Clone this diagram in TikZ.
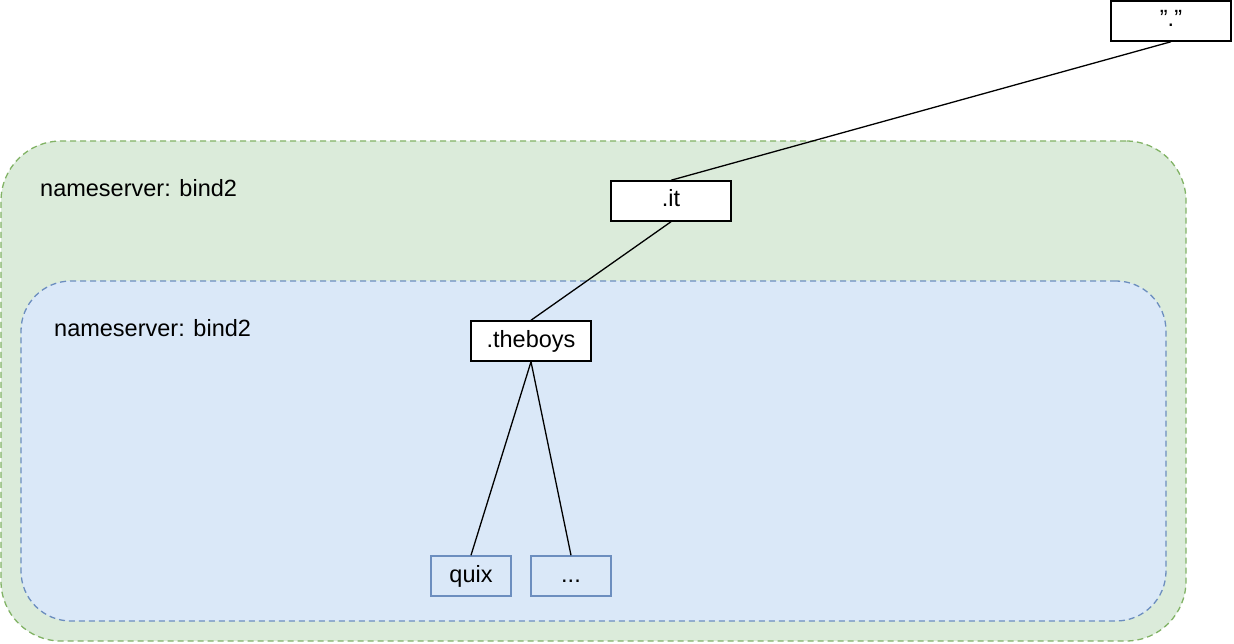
\documentclass[tikz,border=0pt]{standalone}
\usepackage{fontspec}
\setmainfont{Liberation Sans}[Ligatures=ResetAll]
\usetikzlibrary{calc}

\definecolor{zonegreen}{HTML}{DBEBDA}
\definecolor{edgegreen}{HTML}{82B366}
\definecolor{zoneblue}{HTML}{DAE8F8}
\definecolor{edgeblue}{HTML}{6C8EBF}

\begin{document}
\begin{tikzpicture}[x=1pt, y=-1pt,
    font=\fontsize{23.5}{28}\selectfont,
    zone/.style={draw, dash pattern=on 6pt off 4pt, line width=1.3pt, inner sep=0pt},
    dom/.style={draw, line width=1.5pt, fill=white, minimum width=120pt, minimum height=40pt, inner sep=0pt, text height=17pt, text depth=5pt},
    leaf/.style={dom, draw=edgeblue, fill=zoneblue, minimum width=80pt},
    link/.style={line width=1.3pt}]
    \useasboundingbox (0,0) rectangle (1234,644);
    \node[zone, draw=edgegreen, fill=zonegreen, rounded corners=60pt, minimum width=1185pt, minimum height=500pt] (outer) at (593.5, 391) {};
    \node[zone, draw=edgeblue, fill=zoneblue, rounded corners=50pt, minimum width=1145pt, minimum height=340pt] (inner) at (593.5, 451) {};
    \node[anchor=west, inner sep=0pt] (outerlbl) at (40, 188) {nameserver: bind2};
    \node[anchor=west, inner sep=0pt] (innerlbl) at (54, 328) {nameserver: bind2};
    \node[dom] (root) at (1171, 21) {\symbol{34}.\symbol{34}};
    \node[dom] (it) at (671, 201) {.it};
    \node[dom] (theboys) at (531, 341) {.theboys};
    \node[leaf] (quix) at (471, 576) {quix};
    \node[leaf] (more) at (571, 576) {{.}{.}{.}};
    \draw[link] (root.south) -- (it.north);
    \draw[link] (it.south) -- (theboys.north);
    \draw[link] (theboys.south) -- (quix.north);
    \draw[link] (theboys.south) -- (more.north);
\end{tikzpicture}
\end{document}
